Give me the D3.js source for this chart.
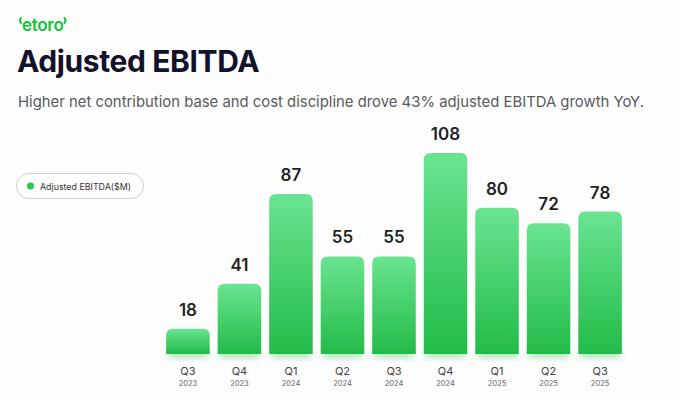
<!DOCTYPE html>
<html><head><meta charset="utf-8">
<script src="https://cdn.jsdelivr.net/npm/d3@7"></script>
<style>html,body{margin:0;padding:0;background:#fdfdfd;}svg{display:block;}</style>
</head><body>
<script>
const quarters = ["Q3","Q4","Q1","Q2","Q3","Q4","Q1","Q2","Q3"];
const years = ["2023","2023","2024","2024","2024","2024","2025","2025","2025"];
const values = [18,41,87,55,55,108,80,72,78];
const seriesName = "Adjusted EBITDA($M)";
const title = "Adjusted EBITDA";
const subtitle = "Higher net contribution base and cost discipline drove 43% adjusted EBITDA growth YoY.";

const W = 680, H = 399;
const svg = d3.select("body").append("svg").attr("width", W).attr("height", H);
svg.append("rect").attr("width", W).attr("height", H).attr("fill", "#fdfdfd");

function fitText(sel, target, baseSize) {
  sel.attr("font-size", baseSize);
  const w = sel.node().getComputedTextLength();
  sel.attr("font-size", Math.min(baseSize * 1.15, baseSize * target / w));
}

const defs = svg.append("defs");
const grad = defs.append("linearGradient").attr("id","barGrad").attr("x1",0).attr("y1",0).attr("x2",0).attr("y2",1);
grad.append("stop").attr("offset","0%").attr("stop-color","#6ae491");
grad.append("stop").attr("offset","100%").attr("stop-color","#23bb48");
const glow = defs.append("filter").attr("id","glow").attr("x","-20%").attr("y","-50%").attr("width","140%").attr("height","200%");
glow.append("feGaussianBlur").attr("stdDeviation",3);

// logo
const logo = svg.append("g").attr("transform","translate(18,31)");
const lt = logo.append("text").attr("x",4).attr("y",0).text("etoro")
  .attr("font-family","Inter, 'Open Sans', sans-serif").attr("font-weight",600)
  .attr("font-size",17).attr("fill","#14c43a").attr("letter-spacing",-0.3);
const lw = lt.node().getComputedTextLength();
logo.append("path").attr("d","M3,-13 q-2,2.5 0,5").attr("stroke","#14c43a").attr("stroke-width",2).attr("fill","none").attr("stroke-linecap","round");
logo.append("path").attr("d",`M${5+lw},-13 q2,2.5 0,5`).attr("stroke","#14c43a").attr("stroke-width",2).attr("fill","none").attr("stroke-linecap","round");

svg.append("text").attr("x",17).attr("y",72).text(title)
  .attr("font-family","Inter, sans-serif").attr("font-weight",700).attr("font-size",30)
  .attr("fill","#12122a").attr("letter-spacing",-0.4);

const sub = svg.append("text").attr("x",18).attr("y",107).text(subtitle)
  .attr("font-family","Inter, sans-serif").attr("font-weight",400)
  .attr("fill","#5a5a5e");
fitText(sub, 626, 16.5);

// legend
const lg = svg.append("g");
lg.append("rect").attr("x",16.5).attr("y",173.5).attr("width",127).attr("height",25).attr("rx",12.5)
  .attr("fill","#fff").attr("stroke","#cfcfcf");
lg.append("circle").attr("cx",30.5).attr("cy",186).attr("r",3.5).attr("fill","#2bc451");
const lgt = lg.append("text").attr("x",40).attr("y",189.5).text(seriesName)
  .attr("font-family","Inter, sans-serif").attr("fill","#333");
fitText(lgt, 91, 10);

// scales
const idx = values.map((d,i)=>i);
const x = d3.scaleBand().domain(idx).range([161, 627]).paddingInner(0.155).paddingOuter(0.1);
const y = d3.scaleLinear().domain([5,108]).range([354,153]);

const bars = svg.append("g");
bars.selectAll(".glow").data(values).join("rect")
  .attr("x",(d,i)=>x(i)+2).attr("width",x.bandwidth()-4)
  .attr("y",350).attr("height",8).attr("fill","#23bb48").attr("opacity",0.35)
  .attr("filter","url(#glow)");

const r = 7;
bars.selectAll(".bar").data(values).join("path")
  .attr("fill","url(#barGrad)")
  .attr("d",(d,i)=>{
    const x0 = x(i), w = x.bandwidth(), y0 = y(d), y1 = y.range()[0];
    return `M${x0},${y1} L${x0},${y0+r} Q${x0},${y0} ${x0+r},${y0} L${x0+w-r},${y0} Q${x0+w},${y0} ${x0+w},${y0+r} L${x0+w},${y1} Z`;
  });

svg.append("g").selectAll("text").data(values).join("text")
  .attr("x",(d,i)=>x(i)+x.bandwidth()/2).attr("y",d=>y(d)-13)
  .attr("text-anchor","middle").text(d=>d)
  .attr("font-family","Inter, sans-serif").attr("font-weight",600).attr("font-size",17).attr("fill","#1f1f24");

// x axis labels
const xa = svg.append("g").attr("transform","translate(0,354)");
const axis = d3.axisBottom(x).tickSize(0).tickFormat(i=>quarters[i]);
xa.call(axis);
xa.select(".domain").remove();
xa.selectAll(".tick text").attr("dy",0).attr("y",21)
  .attr("font-family","Inter, sans-serif").attr("font-size",11).attr("fill","#444");
xa.selectAll(".tick").append("text").attr("y",32).attr("text-anchor","middle")
  .text(i=>years[i]).attr("font-family","Inter, sans-serif").attr("font-size",7.5).attr("fill","#666");
</script>
</body></html>
